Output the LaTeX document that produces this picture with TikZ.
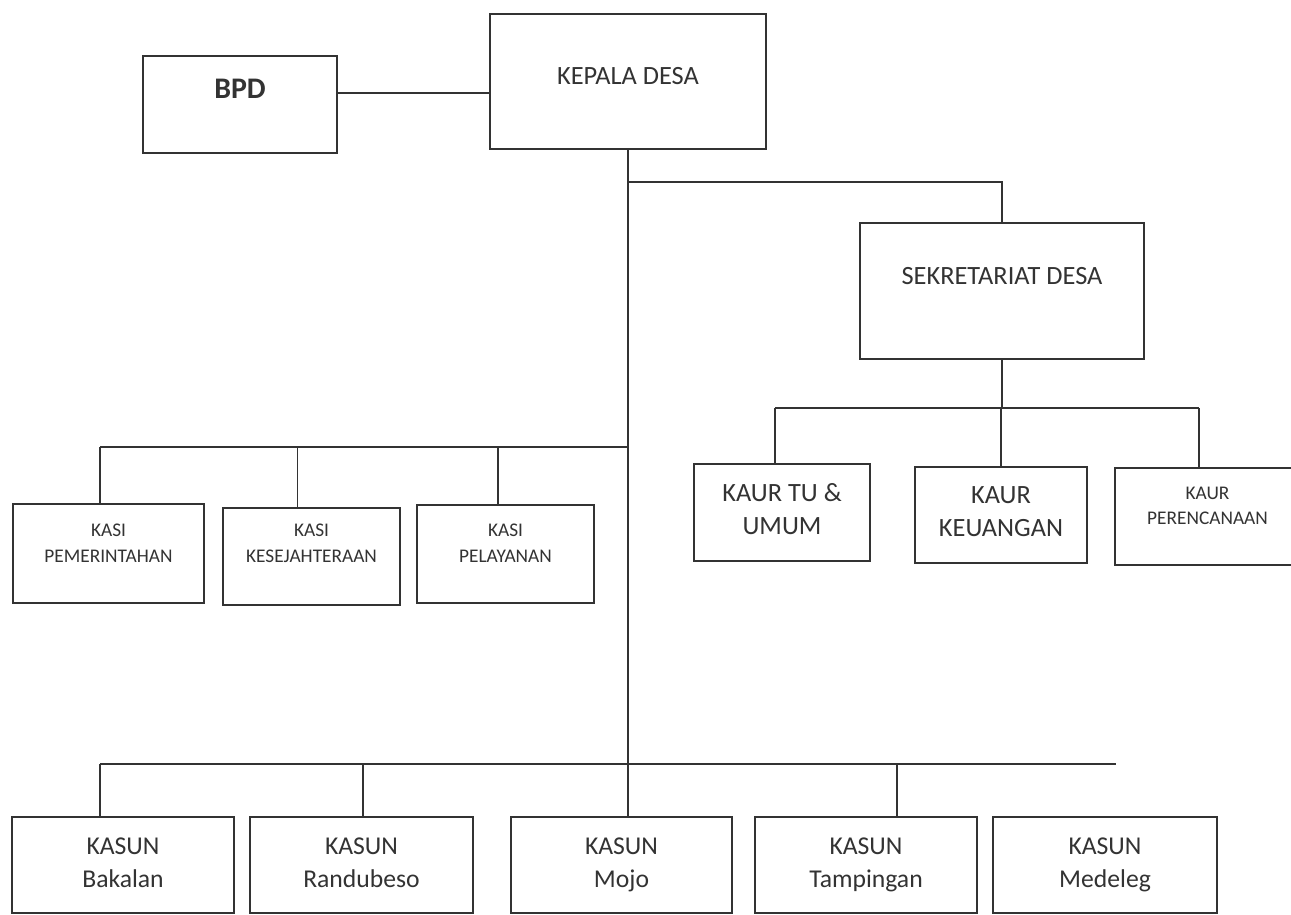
\documentclass[tikz,border=0pt]{standalone}
\usepackage{fontspec}
\setmainfont{Carlito}
\usetikzlibrary{positioning,calc}
\tikzset{%
	kotak/.style  = {draw=black!80, line width=1.3pt, rectangle, inner sep=0pt},
	hubung/.style = {draw=black!80, line width=1.1pt},
	teks/.style   = {align=center, text=black!80, inner sep=0pt},
	besar/.style  = {teks, font=\fontsize{15}{18.5}\selectfont},
	kecil/.style  = {teks, font=\fontsize{11}{15}\selectfont},
	dusun/.style  = {teks, font=\fontsize{14.6}{18.8}\selectfont},
}

\begin{document}
\begin{tikzpicture}[x=0.02cm, y=-0.02cm]
	\fill[white] (0,0) rectangle (1291,914);
	\useasboundingbox (0,0) rectangle (1291,914);
	
	% pimpinan
	\node[kotak, minimum width=3.88cm, minimum height=1.94cm] (bpd) at (240,104.5) {};
	\node[teks, font=\fontsize{17}{20}\selectfont\bfseries] (bpd-t) at ([yshift=0.31cm]bpd.center) {BPD};
	\node[kotak, minimum width=5.52cm, minimum height=2.70cm] (kades) at (628,81.5) {};
	\node[besar] (kades-t) at ([yshift=0.11cm]kades.center) {KEPALA DESA};
	\node[kotak, minimum width=5.68cm, minimum height=2.72cm] (sekdes) at (1002,291) {};
	\node[besar] (sekdes-t) at ([yshift=0.30cm]sekdes.center) {SEKRETARIAT DESA};
	
	% kaur
	\node[kotak, minimum width=3.52cm, minimum height=1.94cm] (kaur1) at (782,512.5) {};
	\node[besar] (kaur1-t) at ([yshift=0.07cm]kaur1.center) {KAUR TU \&\\UMUM};
	\node[kotak, minimum width=3.44cm, minimum height=1.92cm] (kaur2) at (1001,515) {};
	\node[besar] (kaur2-t) at ([yshift=0.07cm]kaur2.center) {KAUR\\KEUANGAN};
	\node[kotak, minimum width=3.70cm, minimum height=1.94cm] (kaur3) at (1207.5,516.5) {};
	\node[kecil, font=\fontsize{11}{14.2}\selectfont] (kaur3-t) at ([yshift=0.22cm]kaur3.center) {KAUR\\PERENCANAAN};
	
	% kasi
	\node[kotak, minimum width=3.82cm, minimum height=1.98cm] (kasi1) at (108.5,553.5) {};
	\node[kecil] (kasi1-t) at ([yshift=0.21cm]kasi1.center) {KASI\\PEMERINTAHAN};
	\node[kotak, minimum width=3.54cm, minimum height=1.94cm] (kasi2) at (311.5,556.5) {};
	\node[kecil] (kasi2-t) at ([yshift=0.26cm]kasi2.center) {KASI\\KESEJAHTERAAN};
	\node[kotak, minimum width=3.54cm, minimum height=1.96cm] (kasi3) at (505.5,554) {};
	\node[kecil] (kasi3-t) at ([yshift=0.21cm]kasi3.center) {KASI\\PELAYANAN};
	
	% kasun
	\foreach \n/\x/\w/\nama in {bakalan/123/4.44/Bakalan, randubeso/361.5/4.46/Randubeso, mojo/621.5/4.42/Mojo, tampingan/866/4.44/Tampingan, medeleg/1105/4.48/Medeleg}
	{
		\node[kotak, minimum width=\w cm, minimum height=1.92cm] (\n) at (\x,865) {};
		\node[dusun] (\n-t) at (\n.center) {KASUN\\\nama\vphantom{gj}};
	}
	
	% garis
	\coordinate (cabang) at (628,182);
	\coordinate (kaurbar) at (1001,408);
	\coordinate (kasibar) at (628,447);
	\coordinate (kasunbar) at (628,764);
	\coordinate (ujung) at (1116,764);
	
	\draw[hubung] ([yshift=0.23cm]bpd.east) coordinate (bpd-k) -- (bpd-k -| kades.west);
	\draw[hubung] (kades.south) -- (kades.south |- mojo.north);
	\draw[hubung] (cabang) -| (sekdes.north);
	\draw[hubung] (sekdes.south) -- (sekdes.south |- kaurbar);
	
	\foreach \n/\dx in {kaur1/-0.14, kaur2/0, kaur3/-0.17}
		\draw[hubung] ([xshift=\dx cm]\n.north) coordinate (\n-k) -- (\n-k |- kaurbar);
	\draw[hubung] (kaur1-k |- kaurbar) -- (kaur3-k |- kaurbar);
	
	\foreach \n/\dx in {kasi1/-0.17, kasi2/-0.28, kasi3/-0.15}
		\draw[hubung] ([xshift=\dx cm]\n.north) coordinate (\n-k) -- (\n-k |- kasibar);
	\draw[hubung] (kasi1-k |- kasibar) -- (kasibar);
	
	\foreach \n/\dx in {bakalan/-0.46, randubeso/0.03, tampingan/0.62}
		\draw[hubung] ([xshift=\dx cm]\n.north) coordinate (\n-k) -- (\n-k |- kasunbar);
	\draw[hubung] (bakalan-k |- kasunbar) -- (ujung);
\end{tikzpicture}
\end{document}
